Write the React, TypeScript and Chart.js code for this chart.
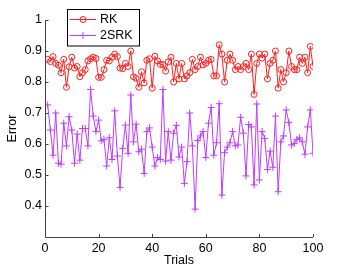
import React, { useEffect, useRef } from "react";
import { Chart, registerables } from "chart.js";

Chart.register(...registerables);

const rkValues = [
  0.873, 0.866, 0.882, 0.86, 0.854, 0.83, 0.873, 0.783, 0.849, 0.88,
  0.845, 0.85, 0.817, 0.83, 0.84, 0.868, 0.875, 0.88, 0.876, 0.815,
  0.815, 0.84, 0.87, 0.868, 0.88, 0.89, 0.882, 0.845, 0.843, 0.86,
  0.85, 0.9, 0.817, 0.812, 0.783, 0.833, 0.797, 0.87, 0.875, 0.78,
  0.883, 0.868, 0.857, 0.856, 0.835, 0.865, 0.88, 0.8, 0.86, 0.81,
  0.86, 0.81, 0.82, 0.83, 0.873, 0.84, 0.85, 0.88, 0.855, 0.86,
  0.87, 0.873, 0.82, 0.82, 0.92, 0.89, 0.8, 0.87, 0.89, 0.87,
  0.84, 0.85, 0.84, 0.85, 0.86, 0.84, 0.89, 0.76, 0.86, 0.89,
  0.877, 0.89, 0.81, 0.86, 0.87, 0.9, 0.78, 0.84, 0.8, 0.83,
  0.9, 0.85, 0.84, 0.84, 0.88, 0.86, 0.88, 0.83, 0.915, 0.85,
];

const srkValues = [
  0.726, 0.645, 0.564, 0.7, 0.538, 0.535, 0.667, 0.594, 0.688, 0.645,
  0.538, 0.632, 0.548, 0.65, 0.65, 0.594, 0.776, 0.69, 0.64, 0.677,
  0.61, 0.615, 0.529, 0.62, 0.55, 0.707, 0.561, 0.46, 0.586, 0.661,
  0.57, 0.758, 0.607, 0.664, 0.575, 0.583, 0.505, 0.64, 0.652, 0.59,
  0.529, 0.556, 0.55, 0.776, 0.545, 0.64, 0.548, 0.635, 0.66, 0.558,
  0.59, 0.473, 0.543, 0.7, 0.594, 0.39, 0.611, 0.626, 0.64, 0.556,
  0.667, 0.718, 0.564, 0.604, 0.73, 0.435, 0.572, 0.59, 0.604, 0.64,
  0.594, 0.597, 0.686, 0.635, 0.497, 0.663, 0.655, 0.468, 0.729, 0.484,
  0.64, 0.618, 0.518, 0.577, 0.525, 0.69, 0.446, 0.607, 0.626, 0.71,
  0.669, 0.597, 0.602, 0.615, 0.62, 0.607, 0.567, 0.655, 0.71, 0.57,
];

const seriesNames = ["RK", "2SRK"];
const xTickValues = [0, 20, 40, 60, 80, 100];
const yTickValues = [0.4, 0.5, 0.6, 0.7, 0.8, 0.9, 1];

const RED = "rgb(255,30,30)";
const PURPLE = "rgb(190,60,255)";
const FONT = "Liberation Sans, Arial, Helvetica, sans-serif";
const FS = 12.5;

const toPoints = (vals: number[]) => vals.map((v, i) => ({ x: i + 1, y: v }));

const matlabAxes = {
  id: "matlabAxes",
  afterDraw(chart: any) {
    const { ctx, chartArea, scales } = chart;
    const xs = scales.x;
    const ys = scales.y;
    ctx.save();
    ctx.strokeStyle = "#404040";
    ctx.lineWidth = 1;
    ctx.beginPath();
    ctx.moveTo(chartArea.left + 0.5, chartArea.top);
    ctx.lineTo(chartArea.left + 0.5, chartArea.bottom + 0.5);
    ctx.lineTo(chartArea.right, chartArea.bottom + 0.5);
    for (const v of yTickValues) {
      const y = Math.round(ys.getPixelForValue(v)) + 0.5;
      ctx.moveTo(chartArea.left, y);
      ctx.lineTo(chartArea.left + 3.5, y);
    }
    for (const v of xTickValues) {
      const x = Math.round(xs.getPixelForValue(v)) + 0.5;
      ctx.moveTo(x, chartArea.bottom);
      ctx.lineTo(x, chartArea.bottom - 3);
    }
    ctx.stroke();

    // legend
    const lx = 67.5, ly = 9.5, lw = 72, lh = 36.5;
    ctx.fillStyle = "#ffffff";
    ctx.fillRect(lx, ly, lw, lh);
    ctx.strokeStyle = "#000000";
    ctx.strokeRect(lx, ly, lw, lh);
    const rows = [
      { name: seriesNames[0], color: RED, y: 19.5, marker: "circle" },
      { name: seriesNames[1], color: PURPLE, y: 35.5, marker: "plus" },
    ];
    ctx.font = `${FS}px ${FONT}`;
    ctx.textBaseline = "middle";
    ctx.textAlign = "left";
    for (const r of rows) {
      ctx.strokeStyle = r.color;
      ctx.beginPath();
      ctx.moveTo(69.5, r.y);
      ctx.lineTo(96, r.y);
      ctx.stroke();
      ctx.beginPath();
      if (r.marker === "circle") {
        ctx.arc(83, r.y, 3, 0, Math.PI * 2);
      } else {
        ctx.moveTo(83, r.y - 3.5);
        ctx.lineTo(83, r.y + 3.5);
        ctx.moveTo(79.5, r.y);
        ctx.lineTo(86.5, r.y);
      }
      ctx.stroke();
      ctx.fillStyle = "#000000";
      ctx.fillText(r.name, 100, r.y + 0.5);
    }
    ctx.restore();
  },
};

export default function App() {
  const ref = useRef<HTMLCanvasElement | null>(null);
  useEffect(() => {
    if (!ref.current) return;
    const chart = new Chart(ref.current, {
      type: "line",
      data: {
        datasets: [
          {
            label: seriesNames[0],
            data: toPoints(rkValues),
            borderColor: RED,
            backgroundColor: "rgba(0,0,0,0)",
            borderWidth: 1,
            pointStyle: "circle",
            pointRadius: 3,
            pointBorderWidth: 1,
            pointBorderColor: RED,
            pointBackgroundColor: "rgba(0,0,0,0)",
            tension: 0,
          },
          {
            label: seriesNames[1],
            data: toPoints(srkValues),
            borderColor: PURPLE,
            backgroundColor: "rgba(0,0,0,0)",
            borderWidth: 1,
            pointStyle: "cross",
            pointRadius: 3.5,
            pointBorderWidth: 1,
            pointBorderColor: PURPLE,
            tension: 0,
          },
        ],
      },
      options: {
        animation: false,
        responsive: false,
        devicePixelRatio: 1,
        layout: { padding: { left: 0, right: 33, top: 20, bottom: 0 } },
        plugins: { legend: { display: false }, tooltip: { enabled: false } },
        scales: {
          x: {
            type: "linear",
            min: 0,
            max: 100,
            afterFit: (s: any) => { s.height = 31; },
            afterBuildTicks: (s: any) => { s.ticks = xTickValues.map((v) => ({ value: v })); },
            grid: { display: false, drawTicks: false, tickLength: 0 },
            border: { display: false },
            ticks: { color: "#000", font: { family: FONT, size: FS }, padding: 4, maxRotation: 0 },
            title: { display: true, text: "Trials", color: "#000", font: { family: FONT, size: FS }, padding: { top: 0, bottom: 0 } },
          },
          y: {
            type: "linear",
            min: 0.3,
            max: 1,
            afterFit: (s: any) => { s.width = 45; },
            afterBuildTicks: (s: any) => { s.ticks = yTickValues.map((v) => ({ value: v })); },
            grid: { display: false, drawTicks: false, tickLength: 0 },
            border: { display: false },
            ticks: {
              color: "#000",
              font: { family: FONT, size: FS },
              padding: 3,
              callback: (v: any) => String(Math.round(Number(v) * 10) / 10),
            },
            title: { display: true, text: "Error", color: "#000", font: { family: FONT, size: FS }, padding: { top: 5, bottom: 0 } },
          },
        },
      },
      plugins: [matlabAxes],
    });
    return () => chart.destroy();
  }, []);
  return (
    <div style={{ position: "fixed", left: 0, top: 0, width: 346, height: 268, background: "#fff" }}>
      <canvas ref={ref} width={346} height={268} style={{ width: 346, height: 268, display: "block" }} />
    </div>
  );
}
